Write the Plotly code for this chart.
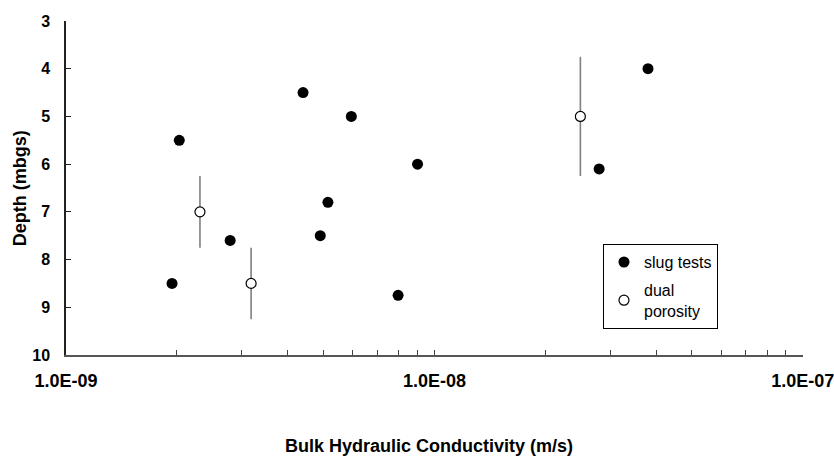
import plotly.graph_objects as go

# Slug test results: bulk hydraulic conductivity (m/s) vs depth (m below ground surface)
slug_k = [2.03e-9, 1.94e-9, 2.79e-9, 4.4e-9, 5.95e-9, 9.0e-9, 5.14e-9, 4.9e-9, 7.97e-9, 3.8e-8, 2.8e-8]
slug_depth = [5.5, 8.5, 7.6, 4.5, 5.0, 6.0, 6.8, 7.5, 8.75, 4.0, 6.1]

# Dual porosity interpretation with the tested interval half-length
dual_k = [2.31e-9, 3.18e-9, 2.49e-8]
dual_depth = [7.0, 8.5, 5.0]
dual_halfspan = [0.75, 0.75, 1.25]

x_tickvals = [1e-9, 1e-8, 1e-7]
x_ticktext = ["1.0E-09", "1.0E-08", "1.0E-07"]
x_minor = [m * d for d in (1e-9, 1e-8) for m in range(2, 10)]
y_tickvals = [3, 4, 5, 6, 7, 8, 9, 10]

FONT = "Liberation Sans, Arial, sans-serif"

fig = go.Figure()

fig.add_trace(go.Scatter(
    x=slug_k, y=slug_depth, mode="markers", name="slug tests",
    legendgroup="slug",
    marker=dict(symbol="circle", size=11, color="black", line=dict(width=0)),
))

fig.add_trace(go.Scatter(
    x=dual_k, y=dual_depth, mode="markers", name="dual<br>porosity",
    legendgroup="dual",
    marker=dict(symbol="circle", size=10, color="white", line=dict(width=1.2, color="black")),
    error_y=dict(type="data", array=dual_halfspan, symmetric=True,
                 color="#7f7f7f", thickness=1.6, width=0),
))

fig.update_layout(
    width=834, height=457,
    margin=dict(l=66, r=31, t=21, b=102),
    paper_bgcolor="white", plot_bgcolor="white",
    font=dict(family=FONT, color="black"),
    showlegend=True,
    legend=dict(
        x=0.7286, y=0.332, xanchor="left", yanchor="top",
        bordercolor="black", borderwidth=1, bgcolor="white",
        font=dict(size=16, family=FONT, color="black"),
        tracegroupgap=4, traceorder="grouped",
        itemwidth=30,
    ),
    xaxis=dict(
        type="log", range=[-9, -6.9995], automargin=False,
        tickmode="array", tickvals=x_tickvals, ticktext=x_ticktext,
        ticks="inside", ticklen=5, tickwidth=1, tickcolor="#404040",
        showline=True, linecolor="#555555", linewidth=1.5,
        showgrid=False, zeroline=False,
        tickfont=dict(size=18, family=FONT, weight="bold"),
        ticklabelstandoff=9, ticklabeloverflow="allow",
        minor=dict(tickmode="array", tickvals=x_minor, ticks="inside",
                   ticklen=5, tickwidth=1, tickcolor="#404040", showgrid=False),
    ),
    yaxis=dict(
        range=[10.0005, 3], automargin=False,
        tickmode="array", tickvals=y_tickvals,
        ticks="inside", ticklen=5, tickwidth=1, tickcolor="#222222",
        showline=True, linecolor="#222222", linewidth=1.5,
        showgrid=False, zeroline=False,
        tickfont=dict(size=16, family=FONT, weight="bold"),
        ticklabelstandoff=11, ticklabeloverflow="allow",
    ),
    annotations=[
        dict(text="<b>Bulk Hydraulic Conductivity (m/s)</b>", xref="paper", yref="paper",
             x=0.4925, y=-0.272, xanchor="center", yanchor="middle", showarrow=False,
             font=dict(size=18, family=FONT, color="black")),
        dict(text="<b>Depth (mbgs)</b>", xref="paper", yref="paper",
             x=-0.0624, y=0.4995, xanchor="center", yanchor="middle", showarrow=False,
             textangle=-90, font=dict(size=18, family=FONT, color="black")),
    ],
)

fig.write_html("out.html")
